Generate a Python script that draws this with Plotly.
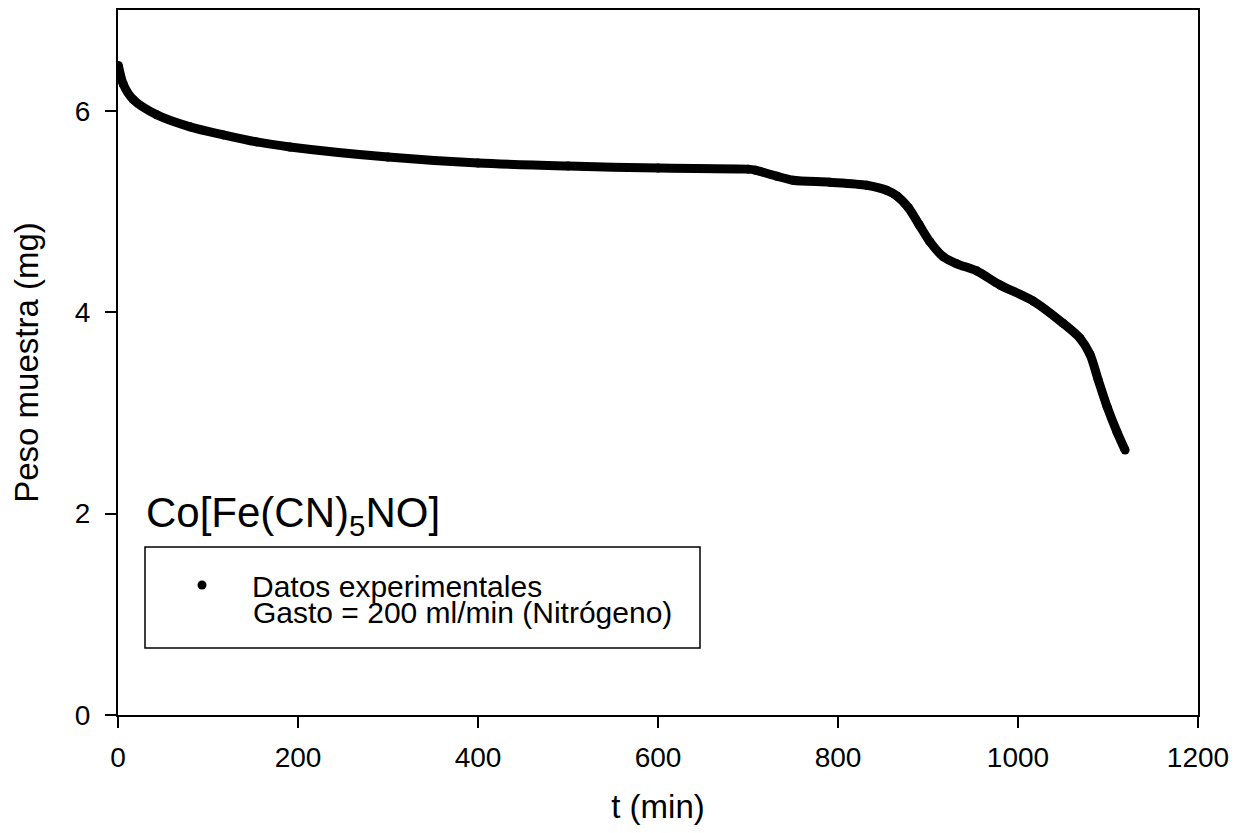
import plotly.graph_objects as go

# Data (t in min, weight in mg)
t_min = [0.4, 6, 17, 43, 80, 117, 154, 191, 300, 400, 500, 600, 700, 708,
         732, 750, 791, 832, 854, 866, 878, 890, 902, 917, 932, 954, 980,
         1017, 1050, 1069, 1080, 1089, 1099, 1110, 1119]
peso_mg = [6.45, 6.26, 6.11, 5.96, 5.84, 5.76, 5.69, 5.64, 5.54, 5.48, 5.45,
           5.43, 5.42, 5.41, 5.35, 5.31, 5.29, 5.26, 5.21, 5.15, 5.04, 4.87,
           4.70, 4.55, 4.48, 4.41, 4.27, 4.11, 3.89, 3.74, 3.58, 3.33, 3.06,
           2.81, 2.63]

x_ticks = [0, 200, 400, 600, 800, 1000, 1200]
y_ticks = [0, 2, 4, 6]

FONT = "Liberation Sans, Arial, sans-serif"

fig = go.Figure()
fig.add_trace(go.Scatter(
    x=t_min, y=peso_mg, mode="lines+markers",
    line=dict(color="black", width=9, shape="spline", smoothing=0.8),
    marker=dict(color="black", size=9),
    showlegend=False, hoverinfo="x+y"))
# legend-only entry (dot symbol)
fig.add_trace(go.Scatter(
    x=[None], y=[None], mode="markers",
    marker=dict(color="black", size=9),
    name="Datos experimentales", showlegend=True))

OFF = 8  # page body margin
W, H = 1241 - 2 * OFF, 833 - 2 * OFF
# plot area in window pixels: left 118, right 1198, top 10, bottom 715
L, T = 118 - OFF, 10 - OFF
R = W - (1198 - OFF)
B = H - (715 - OFF)
pw, ph = W - L - R, H - T - B

def px2paper_x(px):
    return (px - OFF - L) / pw

def px2paper_y(py):
    return (H - B - (py - OFF)) / ph

axis_common = dict(
    showgrid=False, zeroline=False, showline=True, linecolor="black",
    linewidth=2, mirror=True, ticks="outside", ticklen=11, tickwidth=2,
    tickcolor="black", tickfont=dict(family=FONT, size=28, color="black"))

fig.update_layout(
    width=W, height=H,
    margin=dict(l=L, r=R, t=T, b=B, autoexpand=False),
    plot_bgcolor="white", paper_bgcolor="white",
    font=dict(family=FONT, color="black"),
    xaxis=dict(range=[0, 1200], tickvals=x_ticks,
               ticklabelstandoff=5,
               title=dict(text="t (min)", font=dict(family=FONT, size=33),
                          standoff=33),
               **axis_common),
    yaxis=dict(range=[0, 7], tickvals=y_ticks,
               ticklabelstandoff=9,
               title=dict(text="Peso muestra (mg)",
                          font=dict(family=FONT, size=33), standoff=31),
               **axis_common),
    legend=dict(x=px2paper_x(152), y=px2paper_y(559), xanchor="left",
                yanchor="top", bgcolor="rgba(0,0,0,0)", borderwidth=0,
                itemwidth=90,
                font=dict(family=FONT, size=30, color="black")),
    shapes=[dict(type="rect", xref="paper", yref="paper",
                 x0=px2paper_x(145), x1=px2paper_x(700),
                 y0=px2paper_y(648), y1=px2paper_y(547),
                 line=dict(color="black", width=1.5))],
    annotations=[
        dict(text="Gasto = 200 ml/min (Nitrógeno)", xref="paper",
             yref="paper", x=px2paper_x(251), y=px2paper_y(612),
             xanchor="left", yanchor="middle", showarrow=False,
             font=dict(family=FONT, size=30, color="black")),
        dict(text="Co[Fe(CN)<sub>5</sub>NO]", xref="paper", yref="paper",
             x=px2paper_x(144), y=px2paper_y(516), xanchor="left",
             yanchor="middle", showarrow=False,
             font=dict(family=FONT, size=42, color="black")),
    ],
)

fig.write_html("out.html")
